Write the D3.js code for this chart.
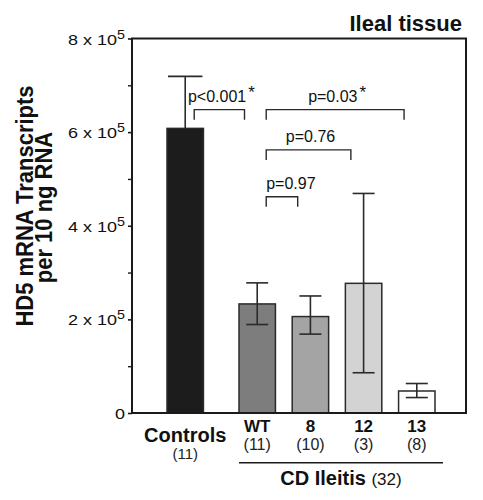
<!DOCTYPE html>
<html>
<head>
<meta charset="utf-8">
<script src="https://cdn.jsdelivr.net/npm/d3@7"></script>
<style>
  html, body { margin: 0; padding: 0; background: #fff; }
  svg { display: block; font-family: "Liberation Sans", Arial, Helvetica, sans-serif; }
</style>
</head>
<body>
<div id="chart"></div>
<script>
// ---------------- data ----------------
const categories   = ["Controls", "WT", "8", "12", "13"];
const sampleSizes  = ["(11)", "(11)", "(10)", "(3)", "(8)"];
const means        = [6.08e5, 2.33e5, 2.06e5, 2.77e5, 0.47e5];
const errUpper     = [7.19e5, 2.78e5, 2.50e5, 4.69e5, 0.63e5];
const errLower     = [null,   1.89e5, 1.685e5, 0.86e5, 0.33e5];
const barFills     = ["#1c1c1c", "#7d7d7d", "#a4a4a4", "#d3d3d3", "#ffffff"];

const yMajorTicks  = [0, 2e5, 4e5, 6e5, 8e5];
const yMinorTicks  = [1e5, 3e5, 5e5, 7e5];
const yTickMantissa = ["0", "2", "4", "6", "8"];
const yTickExponent = "5";

const cdGroup      = ["WT", "8", "12", "13"];
const groupLabel   = "CD Ileitis";
const groupN       = "(32)";

const compFrom     = ["Controls", "WT", "WT", "WT"];
const compTo       = ["WT", "13", "12", "8"];
const compLabel    = ["p<0.001", "p=0.03", "p=0.76", "p=0.97"];
const compStar     = [true, true, false, false];
const compLevel    = [6.48e5, 6.48e5, 5.62e5, 4.62e5];
const compAnchor   = ["middle", "middle", "middle", "start"];

const yTitle = ["HD5 mRNA Transcripts", "per 10 ng RNA"];
const panelTitle = "Ileal tissue";

// ---------------- layout ----------------
const W = 483, H = 500;
const plot = { left: 132, right: 466, top: 38.5, bottom: 413 };

const svg = d3.select("#chart").append("svg")
  .attr("width", W).attr("height", H);

const y = d3.scaleLinear().domain([0, 8e5]).range([plot.bottom, plot.top]);

const xCD = d3.scaleBand().domain(cdGroup).range([239, 435])
  .paddingInner(0.315).paddingOuter(0);
const xCtl = d3.scaleBand().domain(["Controls"]).range([167, 167 + xCD.bandwidth()]);
const xLeft = d => d === "Controls" ? xCtl(d) : xCD(d);
const bw = xCD.bandwidth();
const xCenter = d => xLeft(d) + bw / 2;

const rows = categories.map((c, i) => ({
  cat: c, n: sampleSizes[i], mean: means[i], hi: errUpper[i], lo: errLower[i], fill: barFills[i]
}));

const ink = "#1a1a1a";

// bars
svg.append("g").selectAll("rect").data(rows).join("rect")
  .attr("x", d => xLeft(d.cat))
  .attr("y", d => y(d.mean))
  .attr("width", bw)
  .attr("height", d => y(0) - y(d.mean))
  .attr("fill", d => d.fill)
  .attr("stroke", "#2a2a2a")
  .attr("stroke-width", 1.5);

// error bars
const eb = svg.append("g").attr("stroke", "#2a2a2a").attr("stroke-width", 1.6).attr("fill", "none");
rows.forEach(d => {
  const cx = xCenter(d.cat);
  const capW = d.cat === "Controls" ? bw - 2 : 22;
  const bottom = d.lo == null ? d.mean : d.lo;
  eb.append("line").attr("x1", cx).attr("x2", cx).attr("y1", y(d.hi)).attr("y2", y(bottom));
  eb.append("line").attr("x1", cx - capW / 2).attr("x2", cx + capW / 2).attr("y1", y(d.hi)).attr("y2", y(d.hi));
  if (d.lo != null) {
    eb.append("line").attr("x1", cx - capW / 2).attr("x2", cx + capW / 2).attr("y1", y(d.lo)).attr("y2", y(d.lo));
  }
});

// frame
svg.append("rect")
  .attr("x", plot.left).attr("y", plot.top)
  .attr("width", plot.right - plot.left).attr("height", plot.bottom - plot.top)
  .attr("fill", "none").attr("stroke", ink).attr("stroke-width", 2);

// y axis ticks (major with labels)
const axisG = svg.append("g").attr("transform", `translate(${plot.left},0)`)
  .call(d3.axisLeft(y).tickValues(yMajorTicks).tickSize(4).tickPadding(3).tickFormat(""));
axisG.select(".domain").remove();
axisG.selectAll(".tick line").attr("stroke", ink).attr("stroke-width", 1.6);
axisG.selectAll(".tick").each(function(v, i) {
  const t = d3.select(this).append("text")
    .attr("x", 0).attr("y", 0)
    .attr("transform", "translate(-7,5.5) scale(1.2,1)")
    .attr("text-anchor", "end")
    .attr("fill", "#111")
    .style("font-size", "15px");
  if (v === 0) {
    t.text(yTickMantissa[i]);
  } else {
    t.append("tspan").text(yTickMantissa[i] + " x 10");
    t.append("tspan").attr("dy", -6).style("font-size", "12px").text(yTickExponent);
  }
});
const minorG = svg.append("g").attr("transform", `translate(${plot.left},0)`)
  .call(d3.axisLeft(y).tickValues(yMinorTicks).tickSize(4).tickFormat(""));
minorG.select(".domain").remove();
minorG.selectAll(".tick line").attr("stroke", ink).attr("stroke-width", 1.4);

// y title (rotated; local y maps to screen x)
const yt = svg.append("g").attr("transform", "translate(0,206) rotate(-90) scale(1,1.1)");
yt.append("text").attr("x", 0).attr("y", 30).attr("text-anchor", "middle")
  .style("font-size", "22px").style("font-weight", "bold").attr("fill", "#111").text(yTitle[0]);
yt.append("text").attr("x", -1.5).attr("y", 47.3).attr("text-anchor", "middle")
  .style("font-size", "22px").style("font-weight", "bold").attr("fill", "#111").text(yTitle[1]);

// panel title
svg.append("text").attr("x", 462).attr("y", 30.5).attr("text-anchor", "end")
  .style("font-size", "22px").style("font-weight", "bold").attr("fill", "#111").text(panelTitle);

// category labels
rows.forEach(d => {
  const cx = xCenter(d.cat);
  const isCtl = d.cat === "Controls";
  svg.append("text").attr("x", cx).attr("y", isCtl ? 441.5 : 432)
    .attr("text-anchor", "middle").attr("fill", "#111")
    .style("font-size", isCtl ? "20px" : "17px").style("font-weight", "bold").text(d.cat);
  svg.append("text").attr("x", cx).attr("y", isCtl ? 458.5 : 449.5)
    .attr("text-anchor", "middle").attr("fill", "#222")
    .style("font-size", isCtl ? "15px" : "16px").text(d.n);
});

// group line + label
const gx0 = xLeft(cdGroup[0]);
const gx1 = xLeft(cdGroup[cdGroup.length - 1]) + bw + 8;
svg.append("line").attr("x1", gx0).attr("x2", gx1).attr("y1", 462.7).attr("y2", 462.7)
  .attr("stroke", ink).attr("stroke-width", 1.6);
const gl = svg.append("text").attr("x", (gx0 + gx1) / 2).attr("y", 485)
  .attr("text-anchor", "middle").attr("fill", "#111");
gl.append("tspan").style("font-size", "20px").style("font-weight", "bold").text(groupLabel + " ");
gl.append("tspan").style("font-size", "17px").text(groupN);

// comparison brackets
const br = svg.append("g");
compFrom.forEach((f, i) => {
  const x1 = xCenter(f) + 9;
  const x2 = xLeft(compTo[i]) + 5.5;
  const yy = y(compLevel[i]);
  br.append("path")
    .attr("d", `M${x1},${yy + 10}V${yy}H${x2}V${yy + 10}`)
    .attr("fill", "none").attr("stroke", "#2a2a2a").attr("stroke-width", 1.4);
  const anchor = compAnchor[i];
  const tx = anchor === "start" ? x1 : (x1 + x2) / 2 + 2;
  const t = br.append("text").attr("x", tx).attr("y", yy - 7.5)
    .attr("text-anchor", anchor).attr("fill", "#111").style("font-size", "16px");
  t.append("tspan").text(compLabel[i]);
  if (compStar[i]) {
    t.append("tspan").attr("dx", 2).attr("dy", -4).style("font-size", "17px").text("*");
  }
});
</script>
</body>
</html>
